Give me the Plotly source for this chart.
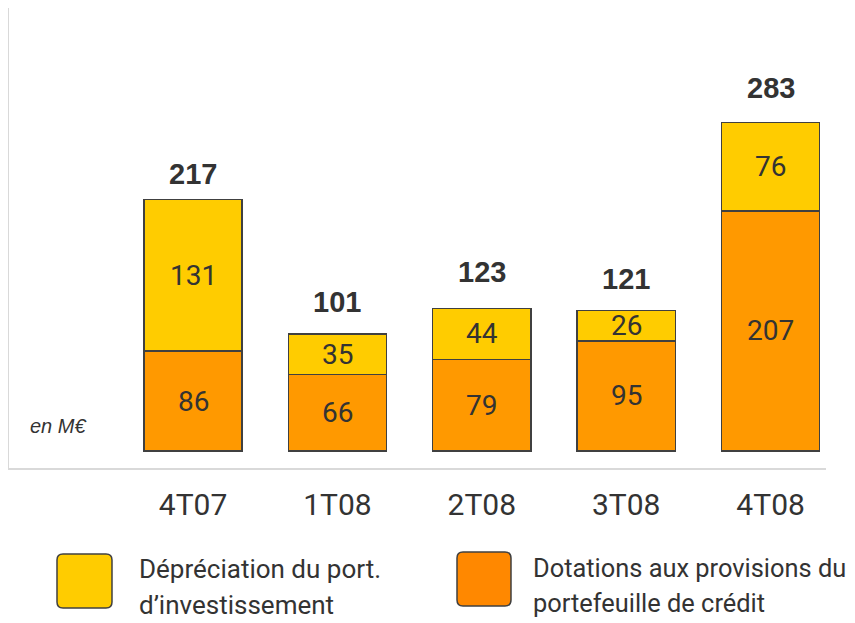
import plotly.graph_objects as go

categories = ["4T07", "1T08", "2T08", "3T08", "4T08"]
dotations = [86, 66, 79, 95, 207]
depreciation = [131, 35, 44, 26, 76]
totals = [217, 101, 123, 121, 283]

legend_dep = ["Dépréciation du port.", "d’investissement"]
legend_dot = ["Dotations aux provisions du", "portefeuille de crédit"]
unit_label = "en M€"

NARROW = "Roboto, Liberation Sans, sans-serif"
SANS = "Liberation Sans, Arial, sans-serif"
TXT = "#333333"
YELLOW = "#FFCC00"
ORANGE = "#FF9900"
ORANGE_LEG = "#FF8800"
OUTLINE = "#404040"

total_shift = [25, 32, 36, 32, 35]

# page has an 8px body margin: work in screen px, convert to figure px
OFF = 8
W, H = 855 - OFF, 623 - OFF
ML, MR, MT, MB = 1, 29, 0, 155
pw, ph = W - ML - MR, H - MT - MB


def px(x):
    return (x - OFF - ML) / pw


def py(y):
    return (H - MB - (y - OFF)) / ph


fig = go.Figure()
fig.add_trace(go.Bar(
    x=categories, y=dotations, name="Dotations aux provisions du portefeuille de crédit",
    marker=dict(color=ORANGE, line=dict(color=OUTLINE, width=1.5)), width=0.68,
    hoverinfo="x+y",
))
fig.add_trace(go.Bar(
    x=categories, y=depreciation, name="Dépréciation du port. d’investissement",
    marker=dict(color=YELLOW, line=dict(color=OUTLINE, width=1.5)), width=0.68,
    hoverinfo="x+y",
))

# segment labels
for c, d, p in zip(categories, dotations, depreciation):
    fig.add_annotation(x=c, y=d / 2, text=str(d), showarrow=False, yanchor="middle",
                       font=dict(family=NARROW, size=28, color=TXT))
    fig.add_annotation(x=c, y=d + p / 2, text=str(p), showarrow=False, yanchor="middle",
                       font=dict(family=NARROW, size=28, color=TXT))

for c, t, s in zip(categories, totals, total_shift):
    fig.add_annotation(x=c, y=t, text=f"<b>{t}</b>", showarrow=False,
                       yanchor="middle", yshift=s,
                       font=dict(family=SANS, size=29, color=TXT))

# unit label
fig.add_annotation(xref="paper", yref="paper", x=px(28), y=py(426), text=f"<i>{unit_label}</i>",
                   showarrow=False, xanchor="left", yanchor="middle",
                   font=dict(family=SANS, size=20, color=TXT))


def rounded_box(x0, y0, x1, y1, r):
    pts = [
        ("M", x0, y0 + r), ("Q", x0, y0, x0 + r, y0), ("L", x1 - r, y0),
        ("Q", x1, y0, x1, y0 + r), ("L", x1, y1 - r), ("Q", x1, y1, x1 - r, y1),
        ("L", x0 + r, y1), ("Q", x0, y1, x0, y1 - r),
    ]
    out = []
    for seg in pts:
        cmd = seg[0]
        coords = seg[1:]
        parts = [cmd]
        for i in range(0, len(coords), 2):
            parts.append(f"{px(coords[i]):.5f},{py(coords[i + 1]):.5f}")
        out.append(" ".join(parts))
    return " ".join(out) + " Z"


fig.add_shape(type="path", xref="paper", yref="paper", path=rounded_box(57, 554, 112, 608, 6),
              fillcolor=YELLOW, line=dict(color=OUTLINE, width=1.5))
fig.add_shape(type="path", xref="paper", yref="paper", path=rounded_box(457, 552, 511, 606, 6),
              fillcolor=ORANGE_LEG, line=dict(color=OUTLINE, width=1.5))

for i, line in enumerate(legend_dep):
    fig.add_annotation(xref="paper", yref="paper", x=px(137), y=py(569 + 36 * i), text=line,
                       showarrow=False, xanchor="left", yanchor="middle",
                       font=dict(family=NARROW, size=26, color=TXT))
for i, line in enumerate(legend_dot):
    fig.add_annotation(xref="paper", yref="paper", x=px(531), y=py(568 + 35 * i), text=line,
                       showarrow=False, xanchor="left", yanchor="middle",
                       font=dict(family=NARROW, size=25.4, color=TXT))

scale = 1.16
y_min = -17 / scale
y_max = (H - MB - 17) / scale
spacing = 144.4
x_min = -((193 - OFF) - ML) / spacing
x_max = x_min + pw / spacing

fig.update_layout(
    width=W, height=H, barmode="stack", showlegend=False,
    margin=dict(l=ML, r=MR, t=MT, b=MB, autoexpand=False),
    plot_bgcolor="white", paper_bgcolor="white",
)
fig.update_xaxes(range=[x_min, x_max], showline=True, linecolor="#d9d9d9", linewidth=2,
                 showgrid=False, ticks="outside", ticklen=9, tickcolor="rgba(0,0,0,0)",
                 tickfont=dict(family=NARROW, size=30, color=TXT), fixedrange=True)
fig.update_yaxes(range=[y_min, y_max], showline=True, linecolor="#d9d9d9", linewidth=2,
                 showgrid=False, zeroline=False, showticklabels=False, fixedrange=True)

fig.write_html("out.html", config={"displayModeBar": False})
